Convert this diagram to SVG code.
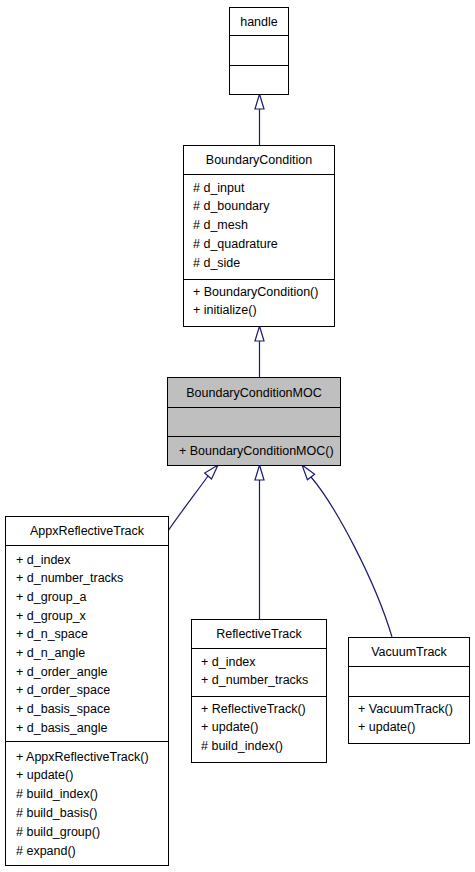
<svg xmlns="http://www.w3.org/2000/svg" width="475" height="872" viewBox="0 0 475 872">
<style>
text{font-family:"Liberation Sans",Arial,Helvetica,sans-serif;font-size:12.5px;fill:#000}
.t{text-anchor:middle}
.box{fill:#fff;stroke:#000;stroke-width:1}
.gray{fill:#bfbfbf;stroke:#000;stroke-width:1}
.div{stroke:#000;stroke-width:1.2;fill:none}
.edge{stroke:#191970;stroke-width:1.2;fill:none}
.head{stroke:#191970;stroke-width:1.2;fill:#fff}
</style>
<rect width="475" height="872" fill="#fff"/>
<g id="connectors">
<path class="edge" d="M259.5,145 V109"/>
<polygon class="head" points="259.5,94 264,109 255,109"/>
<path class="edge" d="M259.5,377 V341"/>
<polygon class="head" points="259.5,326 264,341 255,341"/>
<path class="edge" d="M259.5,619 V480"/>
<polygon class="head" points="259.5,465 264,480 255,480"/>
<path class="edge" d="M168,531 C178,516 198,490 208,476"/>
<polygon class="head" points="218,465 211.5,479 204.7,473"/>
<path class="edge" d="M392,637 C375,580 335,505 311,477"/>
<polygon class="head" points="302,465 314.6,474.3 307.4,479.7"/>
</g>
<g id="handle">
<rect class="box" x="229.5" y="7.5" width="59" height="87"/>
<path class="div" d="M229.5,35.5 H288.5 M229.5,65.5 H288.5"/>
<text class="t" x="259" y="25.5">handle</text>
</g>
<g id="BoundaryCondition">
<rect class="box" x="183.5" y="145.5" width="151" height="181"/>
<path class="div" d="M183.5,174.5 H334.5 M183.5,279.5 H334.5"/>
<text class="t" x="259" y="164">BoundaryCondition</text>
<text x="193" y="191.5"># d_input</text>
<text x="193" y="210.2"># d_boundary</text>
<text x="193" y="229"># d_mesh</text>
<text x="193" y="247.7"># d_quadrature</text>
<text x="193" y="266.5"># d_side</text>
<text x="193" y="295.5">+ BoundaryCondition()</text>
<text x="193" y="314.3">+ initialize()</text>
</g>
<g id="BoundaryConditionMOC">
<rect class="gray" x="167.5" y="377.5" width="173" height="88"/>
<path class="div" d="M167.5,407.5 H340.5 M167.5,436.5 H340.5"/>
<text class="t" x="254" y="396.5">BoundaryConditionMOC</text>
<text x="179" y="454.5">+ BoundaryConditionMOC()</text>
</g>
<g id="AppxReflectiveTrack">
<rect class="box" x="5.5" y="516.5" width="163" height="349"/>
<path class="div" d="M5.5,545.5 H168.5 M5.5,741.5 H168.5"/>
<text class="t" x="87" y="535">AppxReflectiveTrack</text>
<text x="16" y="563.5">+ d_index</text>
<text x="16" y="582.2">+ d_number_tracks</text>
<text x="16" y="600.9">+ d_group_a</text>
<text x="16" y="619.6">+ d_group_x</text>
<text x="16" y="638.2">+ d_n_space</text>
<text x="16" y="656.9">+ d_n_angle</text>
<text x="16" y="675.6">+ d_order_angle</text>
<text x="16" y="694.3">+ d_order_space</text>
<text x="16" y="713">+ d_basis_space</text>
<text x="16" y="731.6">+ d_basis_angle</text>
<text x="16" y="760.5">+ AppxReflectiveTrack()</text>
<text x="16" y="779.3">+ update()</text>
<text x="16" y="798.1"># build_index()</text>
<text x="16" y="816.9"># build_basis()</text>
<text x="16" y="835.7"># build_group()</text>
<text x="16" y="854.5"># expand()</text>
</g>
<g id="ReflectiveTrack">
<rect class="box" x="191.5" y="619.5" width="135" height="143"/>
<path class="div" d="M191.5,648.5 H326.5 M191.5,696.5 H326.5"/>
<text class="t" x="259" y="638">ReflectiveTrack</text>
<text x="201" y="665.5">+ d_index</text>
<text x="201" y="684.3">+ d_number_tracks</text>
<text x="201" y="712.5">+ ReflectiveTrack()</text>
<text x="201" y="731.3">+ update()</text>
<text x="201" y="750.1"># build_index()</text>
</g>
<g id="VacuumTrack">
<rect class="box" x="348.5" y="637.5" width="121" height="106"/>
<path class="div" d="M348.5,666.5 H469.5 M348.5,696.5 H469.5"/>
<text class="t" x="409" y="656">VacuumTrack</text>
<text x="358" y="712.5">+ VacuumTrack()</text>
<text x="358" y="731.3">+ update()</text>
</g>
</svg>
